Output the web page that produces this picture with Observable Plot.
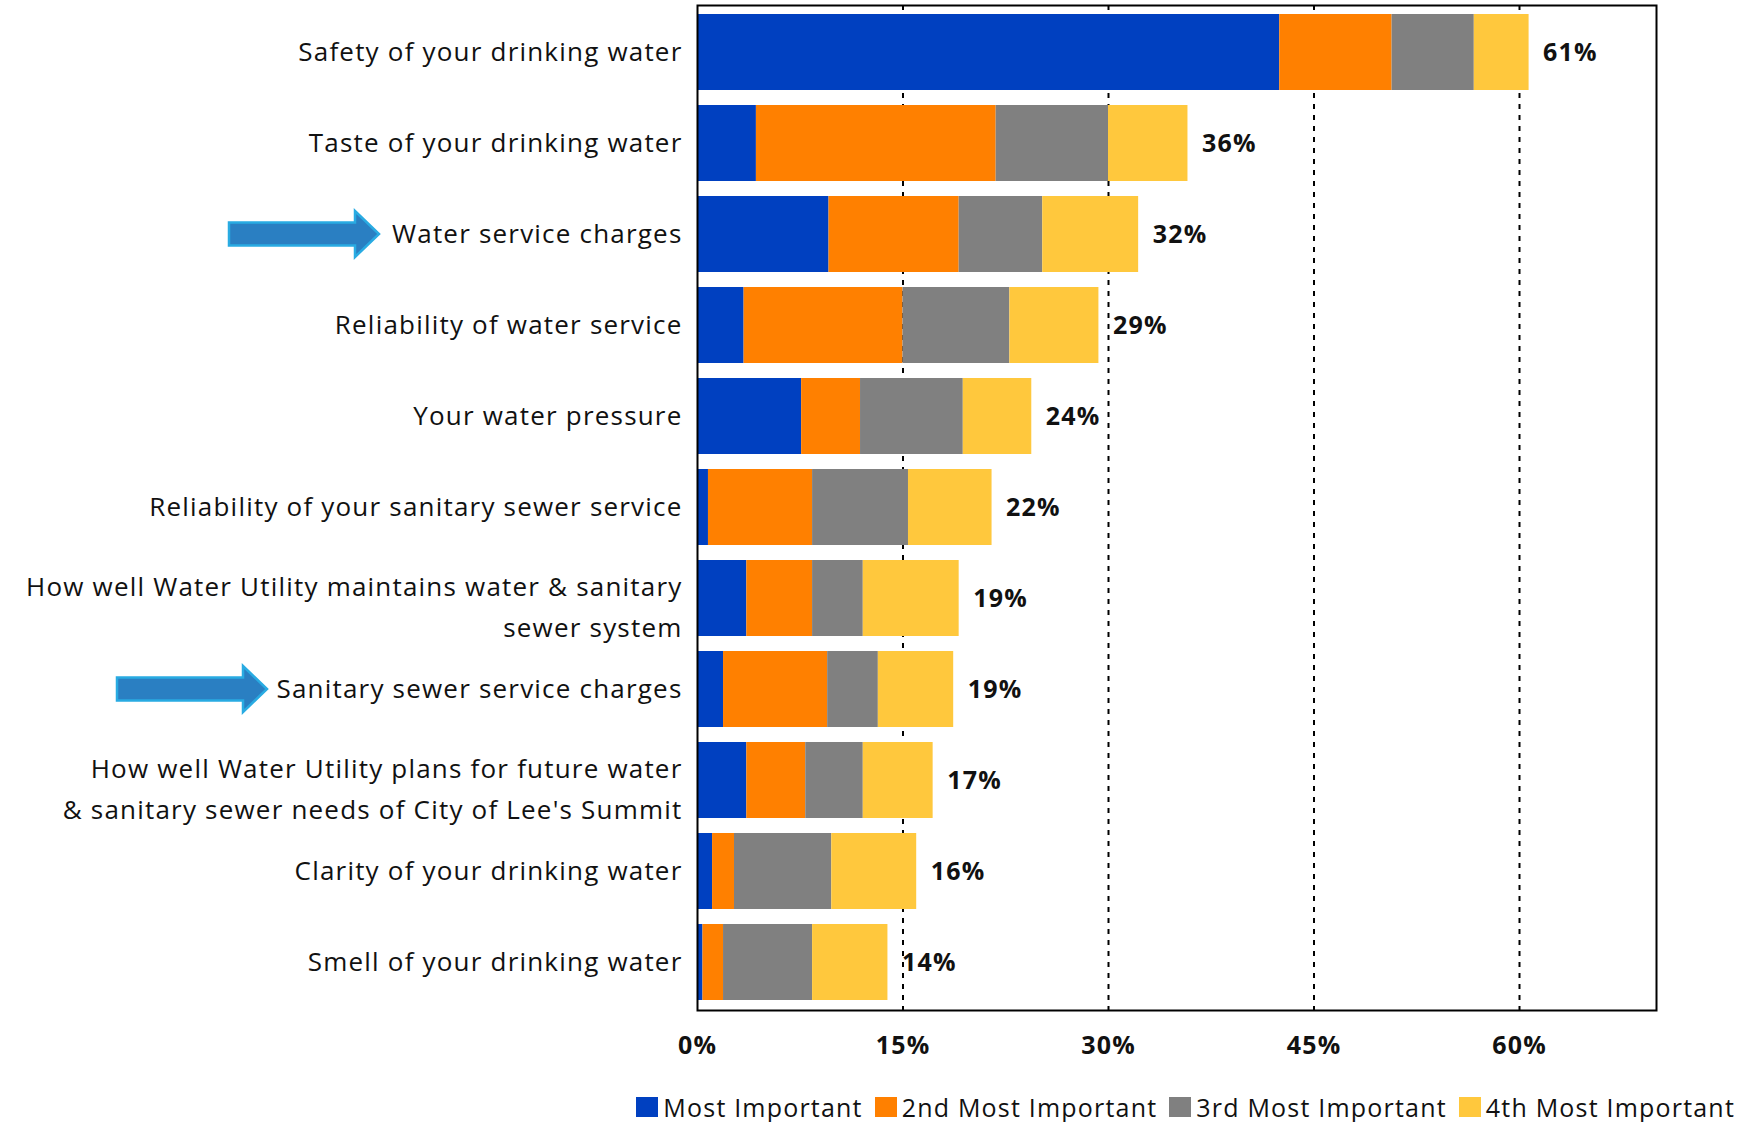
<!DOCTYPE html>
<html>
<head>
<meta charset="utf-8">
<script src="https://cdn.jsdelivr.net/npm/d3@7"></script>
<script src="https://cdn.jsdelivr.net/npm/@observablehq/plot@0.6"></script>
<style>
  html, body { margin: 0; padding: 0; background: #fff; }
  #chart { width: 1744px; }
  .legend { display: flex; justify-content: flex-end; align-items: center; height: 47px; padding-right: 9px; margin-top: 8px;
            font-family: "Open Sans", Lato, sans-serif; font-size: 25px; letter-spacing: 1.2px; color: #111; }
  .legend .item { display: flex; align-items: center; margin-left: 12px; }
  .legend .sw { width: 22px; height: 20px; margin-right: 5px; }
</style>
</head>
<body>
<div id="chart"></div>
<script>
const categories = [
  "Safety of your drinking water",
  "Taste of your drinking water",
  "Water service charges",
  "Reliability of water service",
  "Your water pressure",
  "Reliability of your sanitary sewer service",
  "How well Water Utility maintains water & sanitary\nsewer system",
  "Sanitary sewer service charges",
  "How well Water Utility plans for future water\n& sanitary sewer needs of City of Lee's Summit",
  "Clarity of your drinking water",
  "Smell of your drinking water"
];
const seriesNames = ["Most Important", "2nd Most Important", "3rd Most Important", "4th Most Important"];
const seriesColors = ["#0040C0", "#FF8000", "#808080", "#FFC83D"];
const mostImportant = [42.5, 4.3, 9.6, 3.4, 7.6, 0.8, 3.6, 1.9, 3.6, 1.1, 0.4];
const secondMost    = [ 8.2, 17.5, 9.5, 11.6, 4.3, 7.6, 4.8, 7.6, 4.3, 1.6, 1.5];
const thirdMost     = [ 6.0, 8.2, 6.1, 7.8, 7.5, 7.0, 3.7, 3.7, 4.2, 7.1, 6.5];
const fourthMost    = [ 4.0, 5.8, 7.0, 6.5, 5.0, 6.1, 7.0, 5.5, 5.1, 6.2, 5.5];
const totalLabels   = [61, 36, 32, 29, 24, 22, 19, 19, 17, 16, 14];
const xTicks = [0, 15, 30, 45, 60];
const highlighted = ["Water service charges", "Sanitary sewer service charges"];

const seriesValues = [mostImportant, secondMost, thirdMost, fourthMost];
const rows = [];
categories.forEach((c, i) => seriesNames.forEach((s, j) => rows.push({category: c, series: s, value: seriesValues[j][i]})));
const totals = categories.map((c, i) => ({category: c, total: seriesValues.reduce((a, v) => a + v[i], 0), label: totalLabels[i] + "%"}));

const singleLine = categories.filter(c => !c.includes("\n"));
const multiLine = categories.filter(c => c.includes("\n"));

const FONT = "'Open Sans', Lato, sans-serif";

const plot = Plot.plot({
  width: 1744,
  height: 1075,
  marginLeft: 697,
  marginRight: 88,
  marginTop: 5,
  marginBottom: 65,
  style: {fontFamily: FONT, fontSize: "26px", color: "#111", background: "#fff", letterSpacing: "1.2px"},
  x: {domain: [0, 70], ticks: xTicks, tickFormat: d => d + "%", tickSize: 0, tickPadding: 26, label: null},
  y: {domain: categories, paddingInner: 0.16, paddingOuter: 0.09, label: null, tickSize: 0, tickPadding: 15},
  color: {domain: seriesNames, range: seriesColors},
  marks: [
    Plot.ruleX(xTicks.filter(d => d > 0), {stroke: "#000", strokeWidth: 2, strokeDasharray: "5,6"}),
    Plot.barX(rows, {y: "category", x: "value", fill: "series", z: "series", order: seriesNames}),
    Plot.text(totals, {y: "category", x: "total", text: "label", dx: 14, textAnchor: "start", fontWeight: "bold", fontSize: 25, fill: "#111"}),
    Plot.axisX({ticks: xTicks, tickFormat: d => d + "%", tickSize: 0, tickPadding: 26, fontWeight: "bold", fontSize: 25, label: null}),
    Plot.axisY({ticks: singleLine, tickSize: 0, tickPadding: 15, fontSize: 26, label: null}),
    Plot.axisY({ticks: multiLine, tickSize: 0, tickPadding: 15, fontSize: 26, lineHeight: 1.55, dy: 5, label: null}),
    Plot.frame({stroke: "#000", strokeWidth: 2})
  ]
});

document.getElementById("chart").appendChild(plot);

// Highlight arrows pointing at the two charge-related categories
const ys = plot.scale("y");
const arrowEnds = {"Water service charges": 379, "Sanitary sewer service charges": 267};
const svg = d3.select(plot);
highlighted.forEach(cat => {
  const cy = ys.apply(cat) + (ys.bandwidth || 0) / 2;
  const xr = arrowEnds[cat], xl = xr - 150, hl = 24, hh = 23, sh = 11.5;
  svg.append("path")
    .attr("d", `M${xl},${cy - sh}L${xr - hl},${cy - sh}L${xr - hl},${cy - hh}L${xr},${cy}L${xr - hl},${cy + hh}L${xr - hl},${cy + sh}L${xl},${cy + sh}Z`)
    .attr("fill", "#2A7FC2").attr("stroke", "#29ABE2").attr("stroke-width", 2.5);
});

// Legend
const legend = d3.select("#chart").append("div").attr("class", "legend");
seriesNames.forEach((s, i) => {
  const it = legend.append("div").attr("class", "item");
  it.append("div").attr("class", "sw").style("background", seriesColors[i]);
  it.append("span").text(s);
});
</script>
</body>
</html>
